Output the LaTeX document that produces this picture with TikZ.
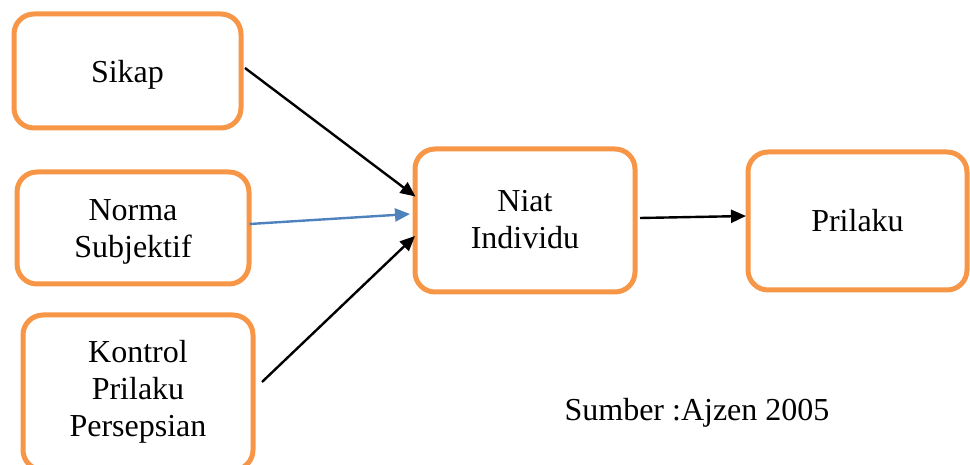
\documentclass[tikz,border=0pt]{standalone}
\usepackage{fontspec}
\setmainfont{Liberation Serif}
\usetikzlibrary{arrows.meta,calc}
\definecolor{boxorange}{HTML}{F79646}
\definecolor{arrblue}{HTML}{4F81BD}
\newcommand\boxtext[2]{\raisebox{#1}[\height][\depth]{\begin{tabular}{@{}c@{}}#2\end{tabular}}}
\begin{document}
\begin{tikzpicture}[x=1pt,y=-1pt,
  boxnode/.style={rectangle, rounded corners=20pt, draw=boxorange, line width=5pt,
    inner sep=0pt, font=\fontsize{32}{37}\selectfont, fill=white},
  arr/.style={line width=2.4pt, -{Triangle[length=15pt,width=13pt]}}]
\useasboundingbox (0,0) rectangle (970,465);
\clip (0,0) rectangle (970,465);
\node[boxnode, minimum width=227pt, minimum height=114pt] (sikap) at (127.5,71) {\boxtext{-4pt}{Sikap}};
\node[boxnode, minimum width=232pt, minimum height=112pt] (norma) at (133,228) {\boxtext{-4pt}{Norma\\Subjektif}};
\node[boxnode, minimum width=230pt, minimum height=155pt] (kontrol) at (138,392.5) {\boxtext{0pt}{Kontrol\\Prilaku\\Persepsian}};
\node[boxnode, minimum width=220pt, minimum height=143pt] (niat) at (525,220.5) {\boxtext{-2pt}{Niat\\Individu}};
\node[boxnode, minimum width=219pt, minimum height=138pt] (prilaku) at (857.5,221) {\boxtext{-3pt}{Prilaku}};
\node[anchor=base, inner sep=0pt, font=\fontsize{32}{37}\selectfont] (sumber) at (697,420) {Sumber :Ajzen 2005};
\draw[arr] ($(sikap.east)+(1.5,-3)$) -- ($(niat.west)+(3,-24)$);
\draw[arr, draw=arrblue, fill=arrblue] ($(norma.east)+(-2,-4)$) -- ($(niat.west)+(-2.5,-6.5)$);
\draw[arr] ($(kontrol.east)+(6.5,-10.5)$) -- ($(niat.west)+(2.5,15.5)$);
\draw[arr] ($(niat.east)+(2.5,-2.5)$) -- ($(prilaku.west)+(0.5,-5)$);
\end{tikzpicture}
\end{document}
